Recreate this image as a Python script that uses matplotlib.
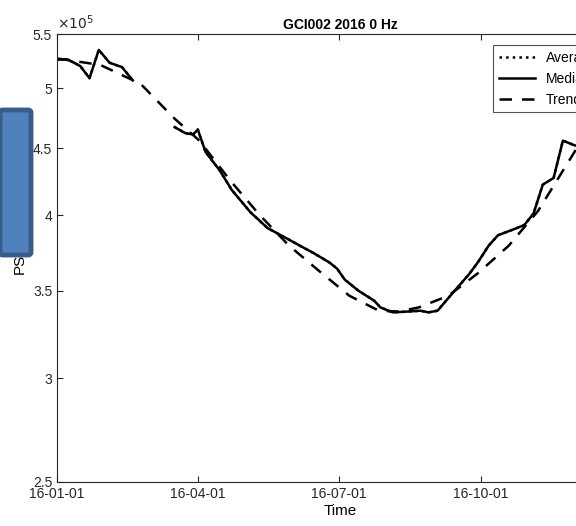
import numpy as np
import matplotlib
matplotlib.use("Agg")
import matplotlib.pyplot as plt
import matplotlib.dates as mdates
from matplotlib.patches import FancyBboxPatch
from matplotlib.ticker import FixedLocator, NullLocator

start = np.datetime64("2016-01-01")
# Median (days after 2016-01-01, PSD); NaN = gap
med_days = [0, 7, 15, 21, 27, 34, 42, 49, 50, 76, 83, 88, 91, 96, 105, 113, 125, 136, 150, 157,
            166, 176, 181, 186, 195, 205, 209, 217, 227, 235, 240, 246, 256, 266, 272, 279, 285,
            295, 302, 308, 314, 321, 327, 335, 343]
med_vals = [5.26, 5.26, 5.20, 5.09, 5.35, 5.23, 5.19, 5.07, np.nan, 4.67, 4.62, 4.61, 4.65, 4.47,
            4.33, 4.18, 4.02, 3.91, 3.83, 3.79, 3.74, 3.68, 3.64, 3.57, 3.50, 3.44, 3.40, 3.37,
            3.375, 3.38, 3.37, 3.38, 3.49, 3.60, 3.68, 3.79, 3.86, 3.90, 3.93, 4.01, 4.22, 4.27,
            4.56, 4.52, 4.55]
trend_days = [0, 28, 54, 76, 92, 112, 131, 150, 170, 189, 208, 221, 234, 253, 272, 292, 311, 335, 345]
trend_vals = [5.27, 5.21, 5.04, 4.74, 4.56, 4.25, 4.00, 3.79, 3.62, 3.47, 3.38, 3.375, 3.40,
              3.47, 3.61, 3.79, 4.03, 4.48, 4.65]
yticks = [2.5, 3, 3.5, 4, 4.5, 5, 5.5]
xticks = ["2016-01-01", "2016-04-01", "2016-07-01", "2016-10-01"]

md = (start + np.array(med_days, dtype="timedelta64[D]")).astype("datetime64[D]").astype(object)
td = (start + np.array(trend_days, dtype="timedelta64[D]")).astype("datetime64[D]").astype(object)
mv = np.array(med_vals) * 1e5
tv = np.array(trend_vals) * 1e5

plt.rcParams["font.family"] = "Liberation Sans"
fig = plt.figure(figsize=(5.76, 5.26), dpi=100)
ax = fig.add_axes([0.099, 0.0837, 0.983, 0.8513])

ax.plot(md, mv, ls=":", color="black", lw=1.8, label="Average")
ax.plot(md, mv, ls="-", color="black", lw=1.8, label="Median")
ax.plot(td, tv, ls=(0, (5, 4)), color="black", lw=1.8, label="Trend")

ax.set_yscale("log")
ax.set_ylim(2.5e5, 5.5e5)
ax.yaxis.set_major_locator(FixedLocator([v * 1e5 for v in yticks]))
ax.yaxis.set_minor_locator(NullLocator())
ax.set_yticklabels([f"{v:g}" for v in yticks])
ax.set_xlim(np.datetime64("2016-01-01").astype(object), np.datetime64("2017-01-01").astype(object))
ax.set_xticks([np.datetime64(d).astype(object) for d in xticks])
ax.xaxis.set_major_formatter(mdates.DateFormatter("%y-%m-%d"))
ax.tick_params(direction="in", top=True, right=True, colors="#262626", labelsize=10, length=4)
for s in ax.spines.values():
    s.set_color("#262626")
    s.set_linewidth(0.8)
ax.text(0.0, 1.005, r"$\times10^5$", transform=ax.transAxes, fontsize=10, color="#262626", va="bottom")
ax.set_title("GCI002 2016 0 Hz", fontsize=10, fontweight="bold", pad=4)
ax.set_xlabel("Time", fontsize=11, labelpad=2)
ax.set_ylabel("PSD", fontsize=11)
leg = ax.legend(loc="upper right", bbox_to_anchor=(0.972, 0.985), fancybox=False, fontsize=10,
                edgecolor="#262626", handlelength=2.6, borderaxespad=0.3)
leg.get_frame().set_linewidth(0.8)

box = FancyBboxPatch((0.0, 1 - 255 / 526), 31 / 576, 145 / 526, boxstyle="round,pad=0,rounding_size=0.005",
                     transform=fig.transFigure, facecolor="#4f81bd", edgecolor="#385d8a", lw=3.5, zorder=10)
fig.patches.append(box)

fig.savefig("out.png", dpi=100)
